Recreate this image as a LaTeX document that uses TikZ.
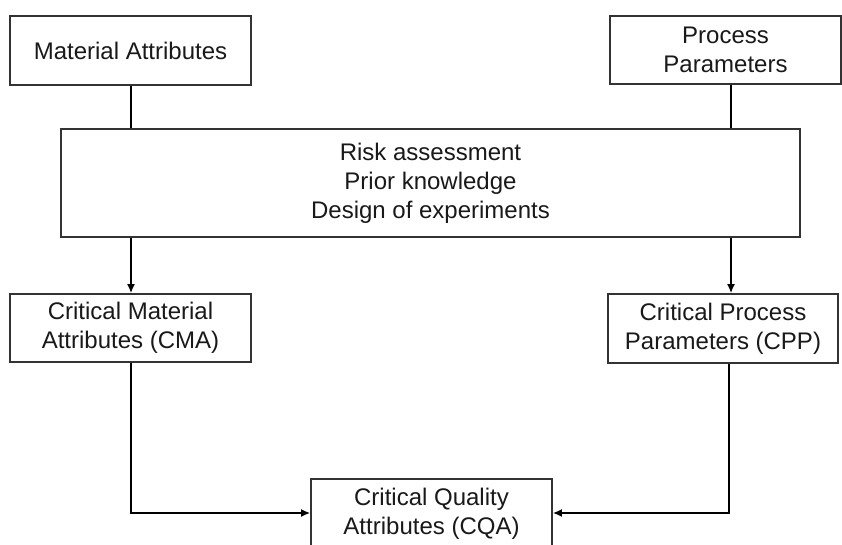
\documentclass[tikz,border=0pt]{standalone}
\usepackage{fontspec}
\setmainfont{Liberation Sans}
\usetikzlibrary{arrows.meta}
\tikzset{
  box/.style={draw=black!80, line width=1.6pt, fill=white, align=center,
    inner sep=0pt, font=\fontsize{24}{29}\selectfont, text=black!90},
  conn/.style={line width=2.6pt, black},
  arr/.style={conn, -{Latex[length=9pt,width=8pt]}}
}
\begin{document}
\begin{tikzpicture}[x=1pt,y=-1pt]
\useasboundingbox (0,0) rectangle (842,545);
\clip (0,0) rectangle (842,545);
\fill[white] (0,0) rectangle (842,545);
\node[box, minimum width=241pt, minimum height=69pt] (ma) at (130.5,50.5) {Material Attributes};
\node[box, minimum width=231pt, minimum height=68pt] (pp) at (725.5,50) {Process\\Parameters};
\node[box, minimum width=739pt, minimum height=108pt] (risk) at (430.5,183) {Risk assessment\\Prior knowledge\\Design of experiments};
\node[box, minimum width=241pt, minimum height=68pt] (cma) at (130.5,328) {Critical Material\\Attributes (CMA)};
\node[box, minimum width=230pt, minimum height=69pt] (cpp) at (723,328.5) {Critical Process\\Parameters (CPP)};
\node[box, minimum width=241pt, minimum height=70pt] (cqa) at (431.5,514) {Critical Quality\\Attributes (CQA)};
\coordinate (lcol) at (131,0);
\coordinate (rcol) at (731,0);
\coordinate (rcol2) at (729,0);
\coordinate (jy) at (0,513);
\draw[conn] (ma.south -| lcol) -- (risk.north -| lcol);
\draw[conn] (pp.south -| rcol) -- (risk.north -| rcol);
\draw[arr] (risk.south -| lcol) -- (cma.north -| lcol);
\draw[arr] (risk.south -| rcol) -- (cpp.north -| rcol);
\draw[arr] (cma.south -| lcol) |- (cqa.west |- jy);
\draw[arr] (cpp.south -| rcol2) |- (cqa.east |- jy);
\end{tikzpicture}
\end{document}
